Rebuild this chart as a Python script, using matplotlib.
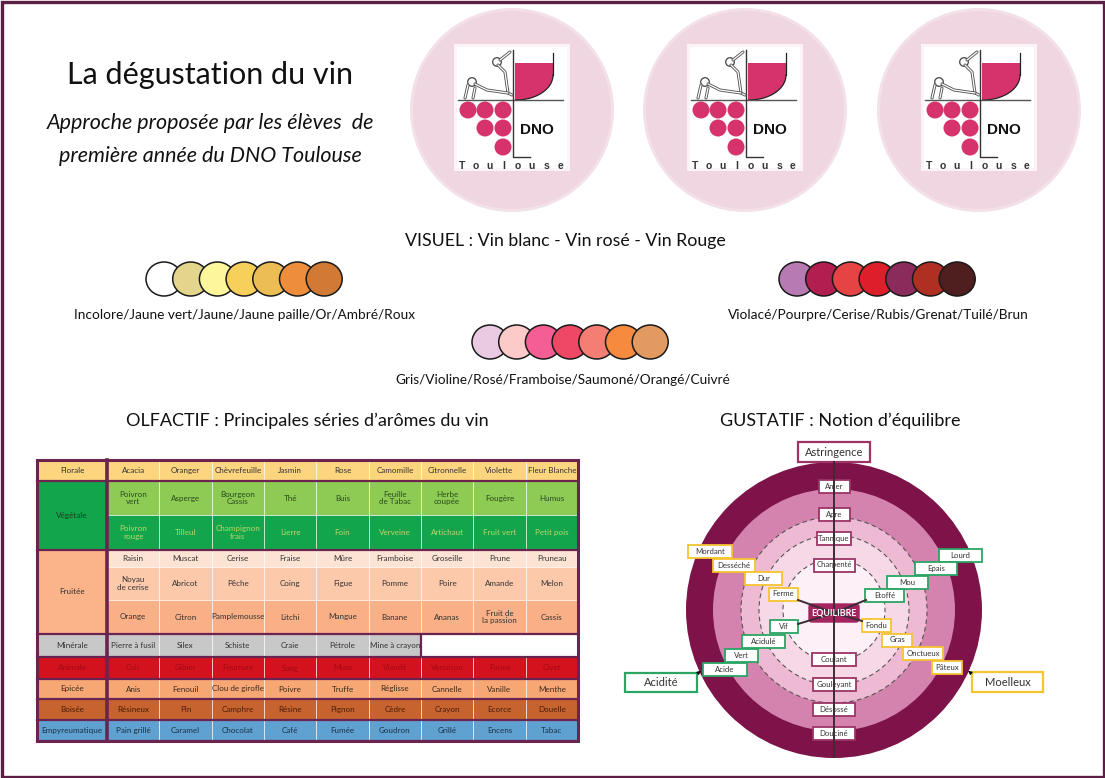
import numpy as np
import matplotlib.pyplot as plt
from matplotlib.patches import Circle, Ellipse, Rectangle, Polygon, FancyBboxPatch

plt.rcParams['font.family'] = ['Lato', 'DejaVu Sans']

# ---------------- data ----------------
title = 'La dégustation du vin'
subtitle = ['Approche proposée par les élèves  de', 'première année du DNO Toulouse']

visuel_title = 'VISUEL : Vin blanc - Vin rosé - Vin Rouge'
blanc_colors = ['#ffffff', '#e3d68c', '#fdf69c', '#f7d05c', '#ecbd55', '#ee8e3c', '#d07a35']
blanc_label = 'Incolore/Jaune vert/Jaune/Jaune paille/Or/Ambré/Roux'
rose_colors = ['#eacae2', '#fccac9', '#f55e95', '#ee4864', '#f47e73', '#f68a3f', '#e29a60']
rose_label = 'Gris/Violine/Rosé/Framboise/Saumoné/Orangé/Cuivré'
rouge_colors = ['#b87ab2', '#b21e4f', '#e64345', '#dd1f2c', '#8b2b5b', '#b02f23', '#4f1e1e']
rouge_label = 'Violacé/Pourpre/Cerise/Rubis/Grenat/Tuilé/Brun'

olf_title = 'OLFACTIF : Principales séries d’arômes du vin'
families = ['Florale', 'Végétale', 'Fruitée', 'Minérale', 'Animale', 'Epicée', 'Boisée', 'Empyreumatique']
florale = [['Acacia', 'Oranger', 'Chèvrefeuille', 'Jasmin', 'Rose', 'Camomille', 'Citronnelle',
            'Violette', 'Fleur Blanche']]
vegetale = [['Poivron\nvert', 'Asperge', 'Bourgeon\nCassis', 'Thé', 'Buis', 'Feuille\nde Tabac',
             'Herbe\ncoupée', 'Fougère', 'Humus'],
            ['Poivron\nrouge', 'Tilleul', 'Champignon\nfrais', 'Lierre', 'Foin', 'Verveine',
             'Artichaut', 'Fruit vert', 'Petit pois']]
fruitee = [['Raisin', 'Muscat', 'Cerise', 'Fraise', 'Mûre', 'Framboise', 'Groseille', 'Prune', 'Pruneau'],
           ['Noyau\nde cerise', 'Abricot', 'Pêche', 'Coing', 'Figue', 'Pomme', 'Poire', 'Amande', 'Melon'],
           ['Orange', 'Citron', 'Pamplemousse', 'Litchi', 'Mangue', 'Banane', 'Ananas',
            'Fruit de\nla passion', 'Cassis']]
minerale = [['Pierre à fusil', 'Silex', 'Schiste', 'Craie', 'Pétrole', 'Mine à crayon']]
animale = [['Cuir', 'Gibier', 'Fourrure', 'Sang', 'Musc', 'Viandé', 'Venaison', 'Fauve', 'Civet']]
epicee = [['Anis', 'Fenouil', 'Clou de girofle', 'Poivre', 'Truffe', 'Réglisse', 'Cannelle', 'Vanille', 'Menthe']]
boisee = [['Résineux', 'Pin', 'Camphre', 'Résine', 'Pignon', 'Cèdre', 'Crayon', 'Ecorce', 'Douelle']]
empyreumatique = [['Pain grillé', 'Caramel', 'Chocolat', 'Café', 'Fumée', 'Goudron', 'Grillé', 'Encens', 'Tabac']]
aromas = [florale, vegetale, fruitee, minerale, animale, epicee, boisee, empyreumatique]

gust_title = 'GUSTATIF : Notion d’équilibre'
axis_labels = ['Amer', 'Apre', 'Tannique', 'Charpenté', 'Coulant', 'Gouleyant', 'Désossé', 'Douciné']
upper_left = ['Mordant', 'Desséché', 'Dur', 'Ferme']
upper_right = ['Lourd', 'Epais', 'Mou', 'Etoffé']
lower_left = ['Vif', 'Acidulé', 'Vert', 'Acide']
lower_right = ['Fondu', 'Gras', 'Onctueux', 'Pâteux']

# ---------------- styles / layout ----------------
fam_fill = ['#fdd57e', '#13a54b', '#fbb38a', '#c8c8c8', '#d4121d', '#f6a774', '#c7632f', '#5fa2d2']
fam_text = ['#333333', '#1e3b20', '#333333', '#333333', '#a10a16', '#3a2a20', '#4a1c0a', '#1b2f45']
row_fill = [['#fdd57e'], ['#8dcb55', '#13a54b'], ['#fde3d4', '#fcc9ab', '#fab086'], ['#c8c8c8'],
            ['#d4121d'], ['#f6a774'], ['#c7632f'], ['#5fa2d2']]
row_text = [['#333333'], ['#2a4a1a', '#bcd66a'], ['#333333'] * 3, ['#333333'],
            ['#a10a16'], ['#3a2a20'], ['#4a1c0a'], ['#1b2f45']]
row_h = [[21], [34, 35], [17, 33, 34], [23], [22], [20], [21], [21]]
border = '#6b2450'
purple_edge, yellow_edge, green_edge = '#9c3466', '#f6c431', '#2aa563'

fig = plt.figure(figsize=(11.05, 7.78), dpi=100)
ax = fig.add_axes([0, 0, 1, 1])
ax.set_xlim(0, 1105)
ax.set_ylim(778, 0)
ax.axis('off')

# frame
ax.add_patch(Rectangle((1.5, 1.5), 1102, 775, fill=False, ec='#5c1e45', lw=2.4))

# title block
ax.text(210, 75, title, fontsize=22, ha='center', va='center', color='#111111')
ax.text(210, 123, subtitle[0], fontsize=15.5, style='italic', ha='center', va='center', color='#111111')
ax.text(210, 156, subtitle[1], fontsize=15.5, style='italic', ha='center', va='center', color='#111111')


def logo(cx, cy):
    ax.add_patch(Circle((cx, cy), 102, fc='#f3e0e8', ec='none'))
    ax.add_patch(Circle((cx, cy), 99, fc='#efd6e1', ec='none'))
    ax.add_patch(Rectangle((cx - 58, cy - 66), 116, 127, fc='#fbf3f6', ec='none'))
    ax.add_patch(Rectangle((cx - 55, cy - 63), 110, 121, fc='white', ec='none'))
    pink = '#d6336c'
    # glass
    th = np.linspace(0, np.pi / 2, 30)
    cxs = cx + 4 + 37 * np.cos(th)
    cys = cy - 35 + 25 * np.sin(th)
    fill_pts = [(cx + 3, cy - 47), (cx + 41, cy - 47)] + list(zip(cxs, cys)) + [(cx + 3, cy - 10)]
    ax.add_patch(Polygon(fill_pts, closed=True, fc=pink, ec='none'))
    ax.plot([cx + 41, cx + 41], [cy - 57, cy - 35], color='#222222', lw=0.9)
    ax.plot(cxs, cys, color='#222222', lw=0.9)
    # cross lines
    ax.plot([cx - 54, cx + 51], [cy - 10, cy - 10], color='#555555', lw=1.0)
    ax.plot([cx + 1, cx + 1, cx + 18], [cy - 60, cy + 47, cy + 47], color='#333333', lw=1.0)
    # grapes
    for gx, gy in [(-44, 0), (-27, 0), (-9, 0), (-27, 18), (-9, 18), (-9, 37)]:
        ax.add_patch(Circle((cx + gx, cy + gy), 8.5, fc=pink, ec='none'))
    # stick figure
    for pts in [[(-12, -50), (-2, -58)], [(-14, -45), (-7, -38), (-4, -17), (0, -15)],
                [(-37, -26), (-25, -20), (-4, -17)], [(-44, -25), (-47, -12)],
                [(-37, -22), (-39, -12)]]:
        xs = [cx + p[0] for p in pts]
        ys = [cy + p[1] for p in pts]
        ax.plot(xs, ys, color='#555555', lw=2.2, solid_capstyle='round')
        ax.plot(xs, ys, color='white', lw=0.9, solid_capstyle='round')
    for hx, hy in [(-15, -48), (-40, -28)]:
        ax.add_patch(Circle((cx + hx, cy + hy), 4.3, fc='white', ec='#444444', lw=0.9))
    ax.text(cx + 25, cy + 20, 'DNO', fontsize=11, weight='bold', family='Liberation Sans',
            ha='center', va='center', color='#111111')
    for i, ch in enumerate('Toulouse'):
        ax.text(cx - 50 + i * 14, cy + 56, ch, fontsize=7.5, weight='bold', family='Liberation Sans',
                ha='center', va='center', color='#333333')


for lx in [512, 745, 979]:
    logo(lx, 110)

# visuel
ax.text(565, 241, visuel_title, fontsize=12.8, ha='center', va='center', color='#111111')


def swatches(colors, x_first, y, label, lab_x, lab_y):
    step = 26.7
    for i, c in enumerate(colors):
        ax.add_patch(Ellipse((x_first + i * step, y), 36, 34, fc=c, ec='#1a1a1a', lw=1.1))
    ax.text(lab_x, lab_y, label, fontsize=9.8, ha='center', va='center', color='#111111')


swatches(blanc_colors, 164, 279, blanc_label, 245, 315)
swatches(rouge_colors, 797, 279, rouge_label, 878, 315)
swatches(rose_colors, 490, 342, rose_label, 563, 380)

# olfactif table
ax.text(307, 421, olf_title, fontsize=13, ha='center', va='center', color='#111111')
x0, xl, x1 = 37, 107, 578
cw = (x1 - xl) / 9
y = 460
for fam, rows, hs, fills, tcols, ffc, ftc in zip(families, aromas, row_h, row_fill, row_text,
                                                  fam_fill, fam_text):
    top = y
    for row, h, fc, tc in zip(rows, hs, fills, tcols):
        for j in range(9):
            if j < len(row):
                ax.add_patch(Rectangle((xl + j * cw, y), cw, h, fc=fc, ec='white', lw=0.4))
                ax.text(xl + (j + 0.5) * cw, y + h / 2, row[j], fontsize=5.8, ha='center',
                        va='center', color=tc, linespacing=1.05)
            else:
                ax.add_patch(Rectangle((xl + j * cw, y), cw, h, fc='white', ec='none'))
        if len(row) < 9:
            ax.plot([xl + len(row) * cw] * 2, [y, y + h], color=border, lw=1.6)
        y += h
    ax.add_patch(Rectangle((x0, top), xl - x0, y - top, fc=ffc, ec='none'))
    ax.text((x0 + xl) / 2, (top + y) / 2, fam, fontsize=5.9, ha='center', va='center', color=ftc)
    ax.plot([x0, x1], [y, y], color=border, lw=1.6)
ax.plot([xl, xl], [460, y], color=border, lw=2.6)
ax.add_patch(Rectangle((x0, 460), x1 - x0, y - 460, fill=False, ec=border, lw=2.2))

# gustatif wheel
ax.text(840, 421, gust_title, fontsize=13, ha='center', va='center', color='#111111')
wx, wy = 834, 610
for r, c in [(148, '#7d1349'), (121, '#d383ad'), (93, '#eebad3'), (75, '#f7d8e7'), (51, '#fdf1f7')]:
    ax.add_patch(Circle((wx, wy), r, fc=c, ec='none'))
for r in [93, 75, 51]:
    ax.add_patch(Circle((wx, wy), r, fill=False, ec='#555555', lw=0.8, ls=(0, (4, 3))))
ax.plot([wx, wx], [462, 757], color='#3b2b35', lw=1.4)
for ex, ey in [(798, 600), (866, 600), (798, 624), (862, 621)]:
    ax.plot([wx, ex], [613, ey], color='#3b2b35', lw=1.4)


def box(x, y, w, h, txt, ec, fs=5.6, lw=1.3):
    ax.add_patch(Rectangle((x - w / 2, y - h / 2), w, h, fc='white', ec=ec, lw=lw))
    ax.text(x, y, txt, fontsize=fs, ha='center', va='center', color='#333333')


axis_y = [486, 514, 538, 565, 659, 684, 709, 733]
axis_w = [31, 31, 34, 41, 44, 43, 42, 42]
for t, yy, w in zip(axis_labels, axis_y, axis_w):
    box(wx, yy, w, 13, t, purple_edge)

ul_xy = [(710, 551.5), (734, 565), (763.5, 578.5), (783.5, 594)]
ul_w = [44, 42, 37, 29]
ur_xy = [(960.5, 555), (936, 568.5), (907.5, 582.5), (884.5, 595.5)]
ur_w = [43, 42, 41, 39]
ll_xy = [(784, 626.5), (763.5, 641.5), (741.5, 655), (725, 669.5)]
ll_w = [28, 43, 33, 44]
lr_xy = [(876.5, 625), (897, 640), (923, 653.5), (947, 667)]
lr_w = [29, 30, 40, 30]
for names, xys, ws, ec in [(upper_left, ul_xy, ul_w, yellow_edge), (upper_right, ur_xy, ur_w, green_edge),
                           (lower_left, ll_xy, ll_w, green_edge), (lower_right, lr_xy, lr_w, yellow_edge)]:
    for t, (bx, by), w in zip(names, xys, ws):
        box(bx, by, w, 13, t, ec)

ax.add_patch(FancyBboxPatch((809, 604), 50, 18, boxstyle='round,pad=0,rounding_size=3',
                            fc='#a3245f', ec='#a3245f', lw=1))
ax.text(834, 613, 'EQUILIBRE', fontsize=6.4, weight='bold', ha='center', va='center', color='white')

box(834, 452, 72, 20, 'Astringence', purple_edge, fs=8, lw=1.6)
box(661, 682.5, 72, 19, 'Acidité', green_edge, fs=8, lw=1.6)
box(1007.5, 682, 71, 20, 'Moelleux', yellow_edge, fs=8, lw=1.6)
ax.annotate('', xy=(703, 669), xytext=(697, 674),
            arrowprops=dict(arrowstyle='-|>', lw=0.8, color='black', mutation_scale=5))
ax.annotate('', xy=(966, 669), xytext=(972, 674),
            arrowprops=dict(arrowstyle='-|>', lw=0.8, color='black', mutation_scale=5))

fig.savefig('out.png', dpi=100)
